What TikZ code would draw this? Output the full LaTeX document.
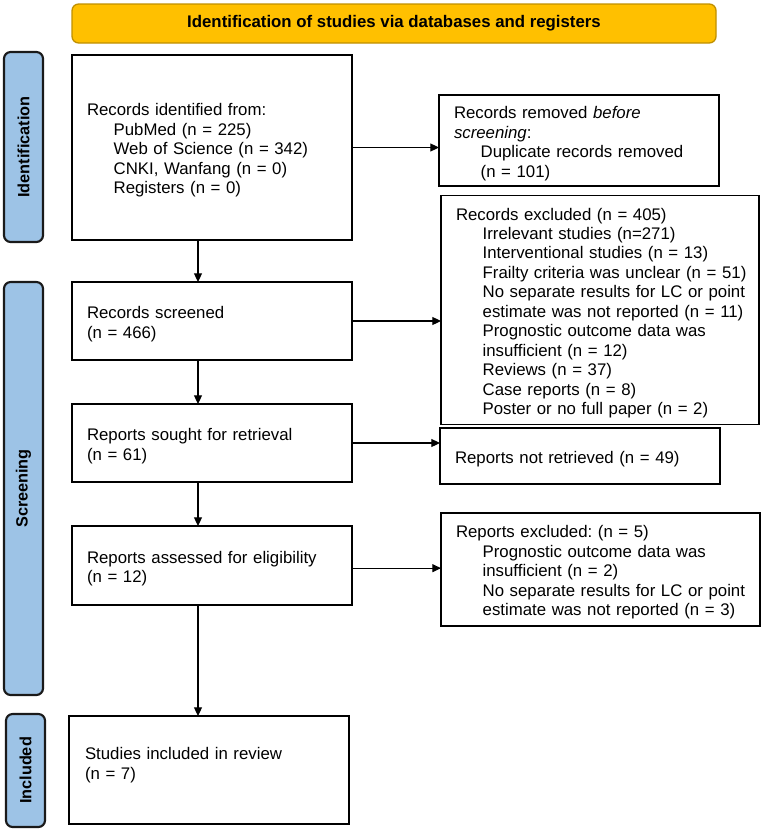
\documentclass[tikz,border=0pt]{standalone}
\usepackage{fontspec}
\usepackage{graphicx}
\setmainfont{Liberation Sans}
\usetikzlibrary{arrows.meta}
\definecolor{bannerfill}{HTML}{FFC000}
\definecolor{bannerdraw}{HTML}{C09000}
\definecolor{barfill}{HTML}{9DC3E6}
\definecolor{bardraw}{HTML}{1A1A1A}
\newcommand{\ind}{\hspace*{20pt}}
\newcommand{\tb}[2][-2.6pt]{\raisebox{#1}[\height][\depth]{\begin{tabular}{@{}l@{}}#2\end{tabular}}}
\frenchspacing
\begin{document}
\begin{tikzpicture}[x=0.75pt,y=-0.75pt,
  every node/.style={inner sep=0pt, outer sep=0pt},
  mainfont/.style={font=\fontsize{12.6}{14.6}\selectfont},
  boxnode/.style={draw=black, line width=1.3pt, fill=white, mainfont, align=left},
  banner/.style={draw=bannerdraw, line width=1pt, fill=bannerfill, rounded corners=5pt, font=\bfseries\fontsize{12.6}{14.6}\selectfont},
  phase/.style={draw=bardraw, line width=1.6pt, fill=barfill, rounded corners=5pt, font=\bfseries\fontsize{12.2}{14}\selectfont},
  arr/.style={line width=0.8pt, -{Triangle[length=6.5pt,width=6pt]}}
]
\useasboundingbox (0,0) rectangle (765,832);

% banner
\node[banner, minimum width=483pt, minimum height=29.25pt] (ban) at (394,23.5) {\raisebox{-1.5pt}{Identification of studies via databases and registers}};

% phase bars
\node[phase, minimum width=29.25pt, minimum height=142.5pt] (P1) at (23.5,147) {\rotatebox{90}{Identification}};
\node[phase, minimum width=29.25pt, minimum height=309.75pt] (P2) at (23.5,488.5) {\rotatebox{90}{Screening}};
\node[phase, minimum width=29.25pt, minimum height=84.75pt] (P3) at (25.5,770.5) {\rotatebox{90}{Included}};

% main column
\node[boxnode, minimum width=210pt, minimum height=138.75pt, text width=187.5pt] (B1) at (212,147.5)
  {\tb{Records identified from:\\\ind PubMed (n = 225)\\\ind Web of Science (n = 342)\\\ind CNKI, Wanfang (n = 0)\\\ind Registers (n = 0)}};
\node[boxnode, minimum width=210pt, minimum height=58.5pt, text width=187.5pt] (B2) at (212,321)
  {\tb{Records screened\\(n = 466)}};
\node[boxnode, minimum width=210pt, minimum height=58.5pt, text width=187.5pt] (B3) at (212,443)
  {\tb{Reports sought for retrieval\\(n = 61)}};
\node[boxnode, minimum width=210pt, minimum height=59.25pt, text width=187.5pt] (B4) at (212,565.5)
  {\tb{Reports assessed for eligibility\\(n = 12)}};
\node[boxnode, minimum width=210pt, minimum height=81pt, text width=186pt] (B5) at (209,770)
  {\tb[3.4pt]{Studies included in review\\(n = 7)}};

% right column
\node[boxnode, minimum width=210pt, minimum height=68.25pt, text width=187.5pt] (R1) at (579,140.5)
  {\tb{Records removed \textit{before}\\\textit{screening}:\\\ind Duplicate records removed\\\ind (n = 101)}};
\node[boxnode, minimum width=238.5pt, minimum height=171.75pt, text width=216pt] (R2) at (600,310)
  {\tb{Records excluded (n = 405)\\
   \ind Irrelevant studies (n=271)\\
   \ind Interventional studies (n = 13)\\
   \ind Frailty criteria was unclear (n = 51)\\
   \ind No separate results for LC or point\\
   \ind estimate was not reported (n = 11)\\
   \ind Prognostic outcome data was\\
   \ind insufficient (n = 12)\\
   \ind Reviews (n = 37)\\
   \ind Case reports (n = 8)\\
   \ind Poster or no full paper (n = 2)}};
\node[boxnode, minimum width=210pt, minimum height=42pt, text width=187.5pt] (R3) at (580,456)
  {\tb{Reports not retrieved (n = 49)}};
\node[boxnode, minimum width=239.25pt, minimum height=84.75pt, text width=216.75pt] (R4) at (600.5,569.5)
  {\tb{Reports excluded: (n = 5)\\
   \ind Prognostic outcome data was\\
   \ind insufficient (n = 2)\\
   \ind No separate results for LC or point\\
   \ind estimate was not reported (n = 3)}};

% horizontal arrows
\draw[arr] (B1.east) -- (B1.east -| R1.west);
\draw[arr] (B2.east) -- (B2.east -| R2.west);
\draw[arr] (B3.east) -- (B3.east -| R3.west);
\draw[arr] ([yshift=-2pt]B4.east) -- ([yshift=-2pt]B4.east -| R4.west);

% vertical arrows
\coordinate (c1) at ([xshift=-10.5pt]B1.south);
\coordinate (c2) at ([xshift=-10.5pt]B2.south);
\coordinate (c3) at ([xshift=-10.5pt]B3.south);
\coordinate (c4) at ([xshift=-10.5pt]B4.south);
\draw[arr] (c1) -- (c1 |- B2.north);
\draw[arr] (c2) -- (c2 |- B3.north);
\draw[arr] (c3) -- (c3 |- B4.north);
\draw[arr] (c4) -- (c4 |- B5.north);
\end{tikzpicture}
\end{document}
